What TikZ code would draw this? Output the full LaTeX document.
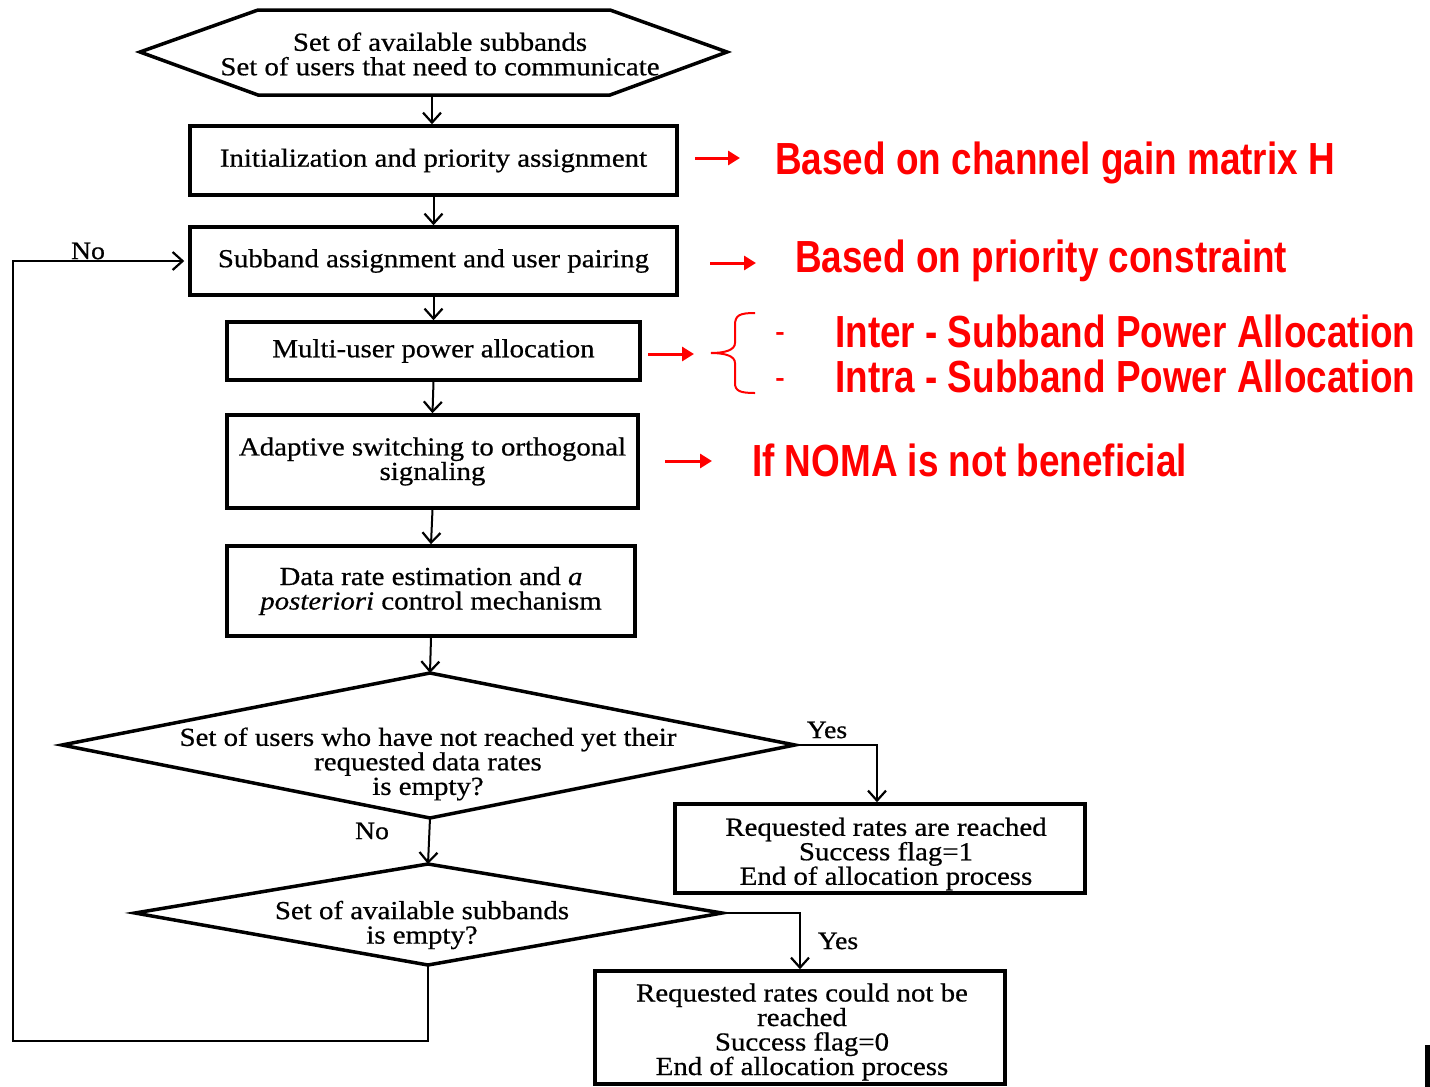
\documentclass[tikz,border=0pt]{standalone}
\usepackage{fontspec}
\setmainfont[FakeStretch=1.11,FakeBold=0.6]{Liberation Serif}
\newfontfamily\redfont[FakeStretch=0.82]{Liberation Sans}
\usetikzlibrary{arrows.meta,calc}
\definecolor{redtxt}{RGB}{255,0,0}
\begin{document}
\begin{tikzpicture}[x=1pt,y=-1pt,
  every node/.style={font=\fontsize{26}{24.5}\selectfont},
  boxnode/.style={draw=black,line width=3.5pt,rectangle,inner sep=0pt,align=center},
  shapeline/.style={draw=black,line width=3.5pt,line join=miter},
  txt/.style={align=center,inner sep=0pt},
  arr/.style={draw=black,line width=2pt,-{Straight Barb[length=10pt,width=18pt,line width=2.2pt]}},
  lbl/.style={inner sep=0pt,font=\fontsize{25}{25}\selectfont},
  redarr/.style={draw=redtxt,line width=3pt,-{Triangle[length=12pt,width=14pt]}},
  redlbl/.style={inner sep=0pt,anchor=base west,text=redtxt,font=\redfont\bfseries\fontsize{45}{45}\selectfont},
  dashlbl/.style={inner sep=0pt,anchor=base,text=redtxt,font=\redfont\fontsize{36}{36}\selectfont}]
\useasboundingbox (0,0) rectangle (1430,1087);

% hexagon
\draw[shapeline] (140,52) -- (258,10) -- (610,10) -- (727,52) -- (610,95) -- (258,95) -- cycle;
\node[txt] (hex) at (440,54) {Set of available subbands\\Set of users that need to communicate};
\coordinate (hexb) at (432,95);

% boxes
\node[boxnode,minimum width=487pt,minimum height=69pt] (b1) at (433.5,160.5) {Initialization and priority assignment};
\node[boxnode,minimum width=487pt,minimum height=68pt] (b2) at (433.5,261) {Subband assignment and user pairing};
\node[boxnode,minimum width=413pt,minimum height=58pt] (b3) at (433.5,351) {Multi-user power allocation};
\node[boxnode,minimum width=411pt,minimum height=93pt] (b4) at (432.5,461.5) {Adaptive switching to orthogonal\\signaling};
\node[boxnode,minimum width=408pt,minimum height=90pt] (b5) at (431,591) {Data rate estimation and \textit{a}\\\textit{posteriori} control mechanism};

% diamond 1
\draw[shapeline] (62,745) -- (430,673) -- (795,745) -- (430,818) -- cycle;
\coordinate (d1t) at (430,673);
\coordinate (d1r) at (795,745);
\coordinate (d1b) at (430,818);
\node[txt] (d1) at (428,764) {Set of users who have not reached yet their\\requested data rates\\is empty?};

% diamond 2
\draw[shapeline] (135,913) -- (428,864) -- (722,913) -- (428,965) -- cycle;
\coordinate (d2t) at (428,864);
\coordinate (d2r) at (722,913);
\coordinate (d2b) at (428,965);
\node[txt] (d2) at (422,925) {Set of available subbands\\is empty?};

% end boxes
\node[boxnode,minimum width=410pt,minimum height=89pt] (b6) at (880,848.5) {};
\node[txt] (b6t) at (886,854) {Requested rates are reached\\Success flag=1\\End of allocation process};
\node[boxnode,minimum width=410pt,minimum height=113pt] (b7) at (800,1027.5) {};
\node[txt] (b7t) at (802,1032) {Requested rates could not be\\reached\\Success flag=0\\End of allocation process};

% connectors
\draw[arr] (hexb) -- (hexb |- b1.north);
\draw[arr] (b1.south) -- (b2.north);
\draw[arr] (b2.south) -- (b3.north);
\draw[arr] (b3.south) -- (b4.north);
\draw[arr] (b4.south) -- (b5.north);
\draw[arr] (b5.south) -- (d1t);
\draw[arr] (d1b) -- (d2t);
\draw[arr] (d1r) -| ([xshift=-3pt]b6.north);
\draw[arr] (d2r) -| (b7.north);
\coordinate (loopc) at (13,1041);
\draw[arr,shorten >=4pt] (d2b) |- (loopc) |- (b2.west);

% connector labels
\node[lbl] (lno1) at (88,251) {No};
\node[lbl] (lno2) at (372,831) {No};
\node[lbl] (lyes1) at (827,730) {Yes};
\node[lbl] (lyes2) at (838,941) {Yes};

% red annotations
\coordinate (ra1s) at (695,158); \coordinate (ra1e) at (740,158);
\coordinate (ra2s) at (710,263); \coordinate (ra2e) at (756,263);
\coordinate (ra3s) at (648,354); \coordinate (ra3e) at (694,354);
\coordinate (ra4s) at (665,461); \coordinate (ra4e) at (712,461);
\draw[redarr] (ra1s) -- (ra1e);
\draw[redarr] (ra2s) -- (ra2e);
\draw[redarr] (ra3s) -- (ra3e);
\draw[redarr] (ra4s) -- (ra4e);
\node[redlbl] (t1) at (775,174) {Based on channel gain matrix H};
\node[redlbl] (t2) at (795,272) {Based on priority constraint};
\node[redlbl] (t3) at (835,347) {Inter - Subband Power Allocation};
\node[redlbl] (t4) at (835,392) {Intra - Subband Power Allocation};
\node[redlbl] (t5) at (752,476) {If NOMA is not beneficial};
\node[dashlbl] (dsh1) at (780,343) {-};
\node[dashlbl] (dsh2) at (780,389) {-};
% brace
\draw[redtxt,line width=2pt] (755,313) .. controls (740,313) and (735,315) .. (735,325)
  -- (735,343) .. controls (735,350) and (725,353) .. (711,353)
  .. controls (725,353) and (735,356) .. (735,363)
  -- (735,383) .. controls (735,391) and (740,393) .. (755,393);

% stray block at bottom right
\fill[black] (1425,1045) rectangle (1430,1087);
\end{tikzpicture}
\end{document}
